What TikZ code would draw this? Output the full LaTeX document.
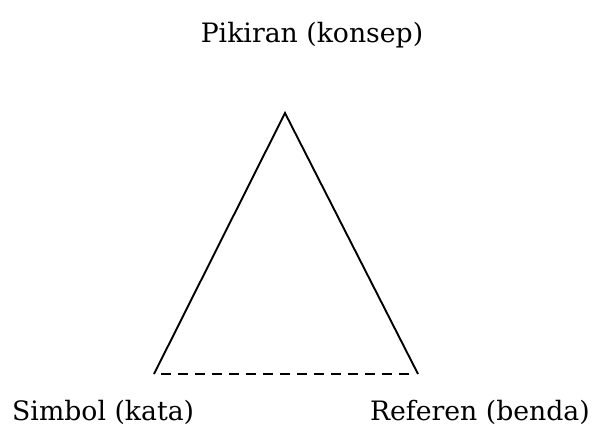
\documentclass[tikz,border=0pt]{standalone}
\usepackage{fontspec}
\setmainfont{DejaVu Serif}
\begin{document}
\begin{tikzpicture}[x=1bp,y=-1bp,
  edge/.style={line width=1.9bp},
  label/.style={inner sep=0pt,font=\fontsize{26.8}{32}\selectfont}]
\useasboundingbox (0,0) rectangle (592,425);
% corners of the triangle
\coordinate (apex) at (285,113);
\coordinate (sym) at (154,374);
\coordinate (ref) at (418,374);
% ends of the dashed base
\coordinate (symd) at (161,374);
\coordinate (refd) at (409,374);
\draw[edge] (sym) -- (apex) -- (ref);
\draw[edge,dash pattern=on 10bp off 7bp] (symd) -- (refd);
\node[label,anchor=base] (pik) at (312,42) {Pikiran (konsep)};
\node[label,anchor=base west] (simb) at (12,420) {Simbol (kata)};
\node[label,anchor=base east] (refn) at (590,420) {Referen (benda)};
\end{tikzpicture}
\end{document}
